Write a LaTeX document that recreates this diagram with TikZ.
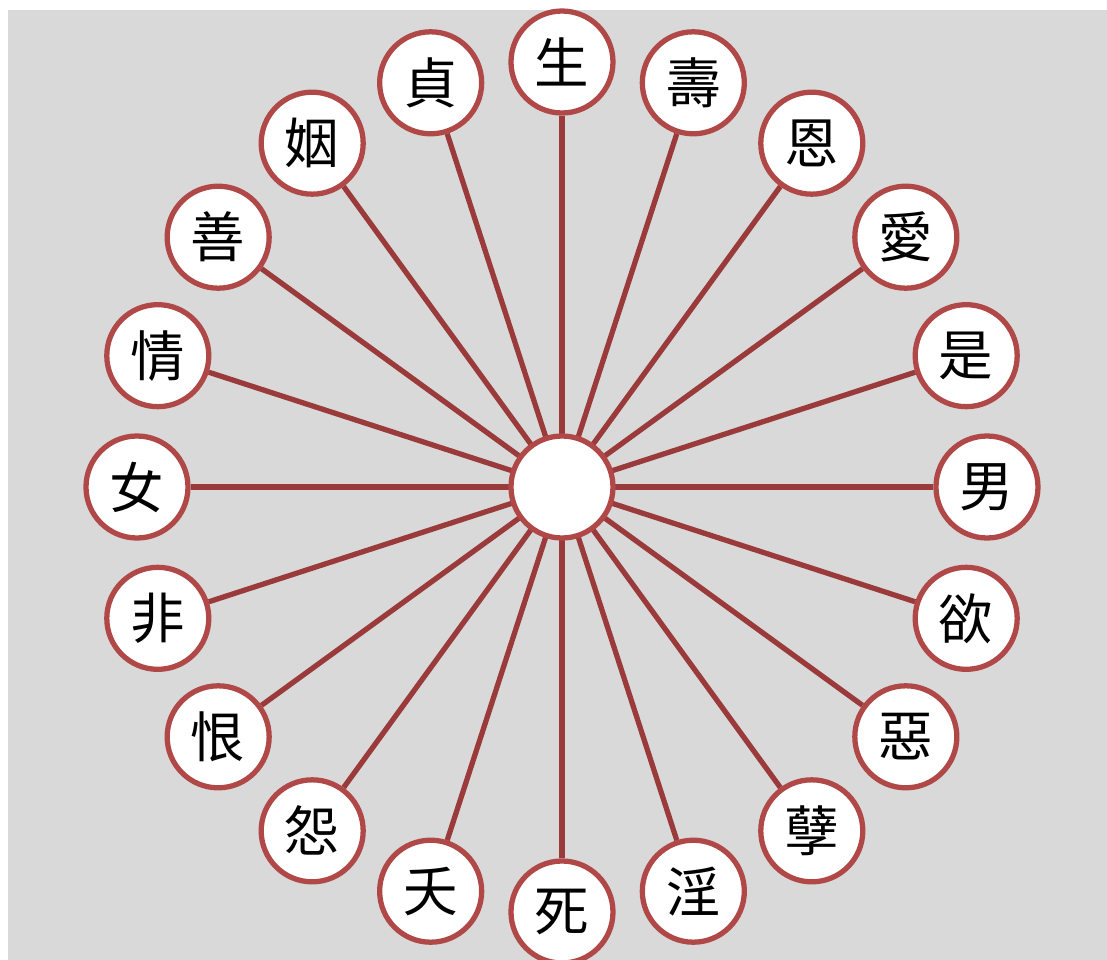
\documentclass[tikz,border=0pt]{standalone}
\usepackage{fontspec}
\usetikzlibrary{calc}
\newfontfamily\cjkfont{Noto Sans CJK TC}
\definecolor{spoke}{HTML}{9A3A3A}
\definecolor{ring}{HTML}{B04848}
\definecolor{bg}{HTML}{D9D9D9}
\tikzset{
  wheelnode/.style={circle, draw=ring, fill=white, line width=1.5pt,
    minimum size=1.02cm, inner sep=0pt, font=\cjkfont\fontsize{15.5}{18}\selectfont},
  spokeline/.style={draw=spoke, line width=1.5pt}
}
\begin{document}
\begin{tikzpicture}[line join=round]
	\def\cx{5.62} \def\cy{4.73} \def\rad{4.25}
	\useasboundingbox (0,0) rectangle (11.07,9.6);
	\clip (0,0) rectangle (11.07,9.6);
	\fill[bg] (0.08,0) rectangle (11.07,9.5);
	\coordinate (c) at (\cx,\cy);
	\foreach \ch [count=\i from 0] in {生,壽,恩,愛,是,男,欲,惡,孽,淫,死,夭,怨,恨,非,女,情,善,姻,貞}{
		\node[wheelnode] (n\i) at ($(c)+({90-18*\i}:\rad)$) {\ch};
		\draw[spokeline] (c) -- (n\i);
	}
	\node[wheelnode] (hub) at (c) {};
\end{tikzpicture}
\end{document}
